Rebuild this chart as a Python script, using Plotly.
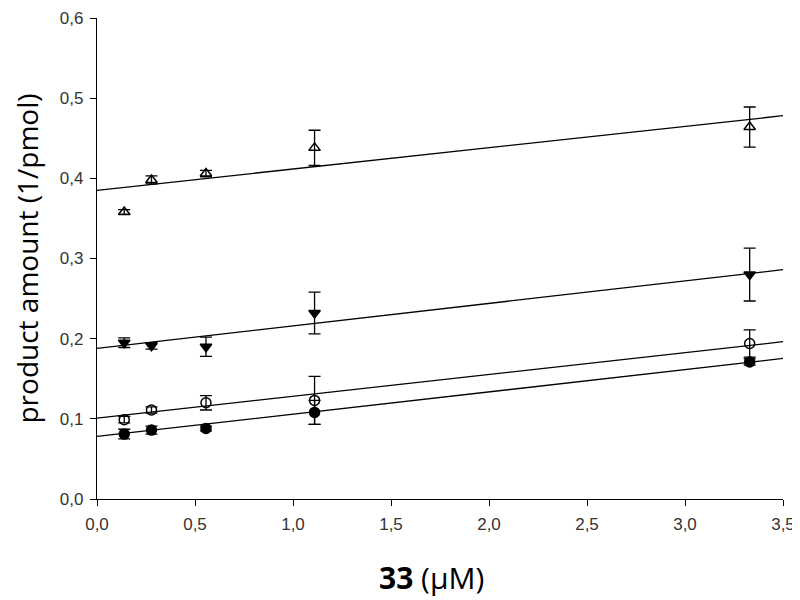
import plotly.graph_objects as go

# inhibitor concentration (µM)
conc = [0.139, 0.278, 0.556, 1.11, 3.33]

# 1/product amount for each series, with error bars
tri_up = [0.358, 0.398, 0.406, 0.438, 0.464]
tri_up_err = [0.003, 0.005, 0.004, 0.022, 0.025]
tri_down = [0.195, 0.191, 0.190, 0.232, 0.280]
tri_down_err = [0.006, 0.004, 0.012, 0.026, 0.033]
circ_open = [0.099, 0.111, 0.120, 0.123, 0.194]
circ_open_err = [0.004, 0.004, 0.009, 0.030, 0.017]
circ_fill = [0.081, 0.086, 0.088, 0.108, 0.171]
circ_fill_err = [0.006, 0.005, 0.003, 0.015, 0.004]

# linear fits: intercept, slope
fit_intercept = [0.385, 0.188, 0.101, 0.078]
fit_slope = [0.0266, 0.0280, 0.0272, 0.0278]
fit_x = [0.0, 3.5]

series = [
    (tri_up, tri_up_err, "triangle-up-open"),
    (tri_down, tri_down_err, "triangle-down"),
    (circ_open, circ_open_err, "circle-open"),
    (circ_fill, circ_fill_err, "circle"),
]

fig = go.Figure()

for b, m in zip(fit_intercept, fit_slope):
    fig.add_trace(go.Scatter(
        x=fit_x, y=[b + m * x for x in fit_x], mode="lines",
        line=dict(color="black", width=1.3), showlegend=False, hoverinfo="skip",
    ))

for ys, errs, sym in series:
    fig.add_trace(go.Scatter(
        x=conc, y=ys, mode="markers",
        marker=dict(symbol=sym, size=10, color="black",
                    line=dict(color="black", width=1.5)),
        error_y=dict(type="data", array=errs, color="black", thickness=1.3, width=6),
        showlegend=False,
    ))

axis_common = dict(
    showgrid=False, zeroline=False, showline=True, linecolor="black", linewidth=1.3,
    ticks="outside", ticklen=6, tickcolor="black", tickwidth=1.3,
    tickfont=dict(family="Liberation Sans", size=17, color="#333333"),
    tickformat=".1f", automargin=False, ticklabeloverflow="allow",
    ticklabelstandoff=3,
)

# page body adds ~8px offset, so the figure is sized slightly under the window
fig.update_layout(
    width=792, height=592,
    plot_bgcolor="white", paper_bgcolor="white",
    separators=",.",
    margin=dict(l=89, r=17, t=10, b=101),
    xaxis=dict(axis_common, range=[0, 3.5], dtick=0.5),
    yaxis=dict(axis_common, range=[0, 0.6], dtick=0.1,
               title=dict(text="product amount (1/pmol)", standoff=16,
                          font=dict(family="Open Sans", size=28, color="black"))),
)

# x title sits a little left of the plot centre in the original
fig.add_annotation(
    text="<b>33</b> (µM)", xref="paper", yref="paper", x=0.487, y=-0.163,
    xanchor="center", yanchor="middle", showarrow=False,
    font=dict(family="Open Sans", size=30, color="black"),
)

fig.write_html("out.html")
